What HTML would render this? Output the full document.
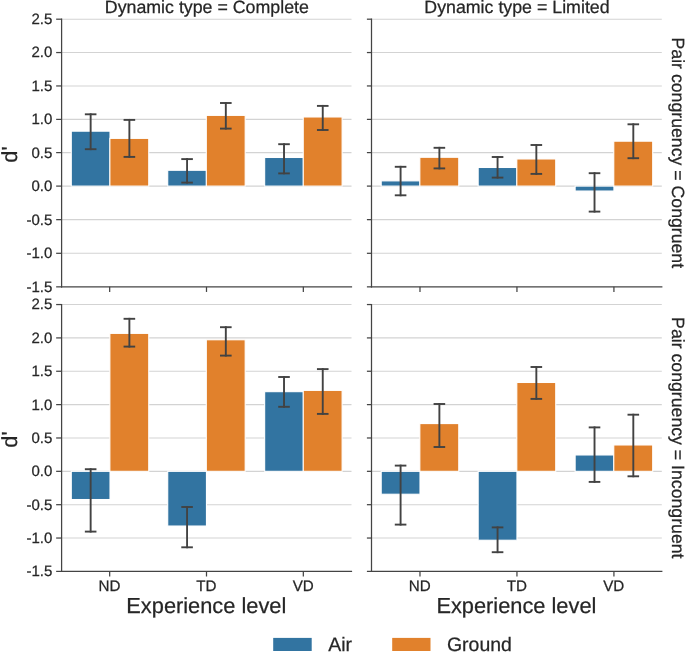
<!DOCTYPE html>
<html lang="en"><head><meta charset="utf-8"><title>d' by experience level</title>
<style>
html,body{margin:0;padding:0;background:#fff;}
body{width:685px;height:653px;overflow:hidden;}
svg{display:block;}
text{font-family:"Liberation Sans",Arial,Helvetica,sans-serif;fill:#262626;stroke:#262626;stroke-width:0.25px;text-rendering:geometricPrecision;}
.tk{font-size:15.0px;}
.tt{font-size:17.8px;}
.rl{font-size:17.7px;}
.xk{font-size:15.2px;}
.lb{font-size:21.8px;}
.lg{font-size:19.44px;}
.grid line{stroke:#d3d3d3;stroke-width:1.1;}
.ax line{stroke:#444444;stroke-width:1.25;}
.err line{stroke:#424242;stroke-width:1.9;stroke-linecap:square;}
.bar rect{stroke:#fff;stroke-width:1.1;}
</style></head><body>
<svg width="685" height="653" viewBox="0 0 685 653">
<rect x="0" y="0" width="685" height="653" fill="#ffffff"/>
<g>
<g class="grid">
<line x1="61.6" y1="19.2" x2="351.5" y2="19.2"/>
<line x1="61.6" y1="52.55" x2="351.5" y2="52.55"/>
<line x1="61.6" y1="85.95" x2="351.5" y2="85.95"/>
<line x1="61.6" y1="119.4" x2="351.5" y2="119.4"/>
<line x1="61.6" y1="152.6" x2="351.5" y2="152.6"/>
<line x1="61.6" y1="186.1" x2="351.5" y2="186.1"/>
<line x1="61.6" y1="219.65" x2="351.5" y2="219.65"/>
<line x1="61.6" y1="253.3" x2="351.5" y2="253.3"/>
</g>
<g class="bar">
<rect x="71.28" y="131.17" width="38.73" height="54.93" fill="#3274a1"/>
<rect x="109.87" y="138.37" width="38.88" height="47.73" fill="#e1812c"/>
<rect x="167.72" y="170.27" width="38.73" height="15.83" fill="#3274a1"/>
<rect x="206.3" y="115.37" width="38.88" height="70.73" fill="#e1812c"/>
<rect x="264.65" y="157.47" width="38.73" height="28.63" fill="#3274a1"/>
<rect x="303.23" y="116.97" width="38.88" height="69.13" fill="#e1812c"/>
</g>
<g class="err">
<line x1="90.65" y1="114.3" x2="90.65" y2="149.2"/>
<line x1="85.8" y1="114.3" x2="95.5" y2="114.3"/>
<line x1="85.8" y1="149.2" x2="95.5" y2="149.2"/>
<line x1="129.38" y1="119.9" x2="129.38" y2="156.9"/>
<line x1="124.53" y1="119.9" x2="134.23" y2="119.9"/>
<line x1="124.53" y1="156.9" x2="134.23" y2="156.9"/>
<line x1="187.08" y1="159.1" x2="187.08" y2="182.6"/>
<line x1="182.23" y1="159.1" x2="191.93" y2="159.1"/>
<line x1="182.23" y1="182.6" x2="191.93" y2="182.6"/>
<line x1="225.82" y1="103" x2="225.82" y2="128.6"/>
<line x1="220.97" y1="103" x2="230.67" y2="103"/>
<line x1="220.97" y1="128.6" x2="230.67" y2="128.6"/>
<line x1="284.02" y1="144.2" x2="284.02" y2="173.4"/>
<line x1="279.17" y1="144.2" x2="288.87" y2="144.2"/>
<line x1="279.17" y1="173.4" x2="288.87" y2="173.4"/>
<line x1="322.75" y1="105.9" x2="322.75" y2="130"/>
<line x1="317.9" y1="105.9" x2="327.6" y2="105.9"/>
<line x1="317.9" y1="130" x2="327.6" y2="130"/>
</g>
<g class="ax">
<line x1="61.6" y1="18.57" x2="61.6" y2="287.48"/>
<line x1="60.98" y1="286.85" x2="352.1" y2="286.85"/>
<line x1="56.15" y1="19.2" x2="61.6" y2="19.2"/>
<line x1="56.15" y1="52.55" x2="61.6" y2="52.55"/>
<line x1="56.15" y1="85.95" x2="61.6" y2="85.95"/>
<line x1="56.15" y1="119.4" x2="61.6" y2="119.4"/>
<line x1="56.15" y1="152.6" x2="61.6" y2="152.6"/>
<line x1="56.15" y1="186.1" x2="61.6" y2="186.1"/>
<line x1="56.15" y1="219.65" x2="61.6" y2="219.65"/>
<line x1="56.15" y1="253.3" x2="61.6" y2="253.3"/>
<line x1="56.15" y1="286.85" x2="61.6" y2="286.85"/>
<line x1="109.67" y1="286.85" x2="109.67" y2="291.95"/>
<line x1="206.5" y1="286.85" x2="206.5" y2="291.95"/>
<line x1="303.33" y1="286.85" x2="303.33" y2="291.95"/>
</g>
<text class="tk" x="52.4" y="24.1" text-anchor="end">2.5</text>
<text class="tk" x="52.4" y="57.45" text-anchor="end">2.0</text>
<text class="tk" x="52.4" y="90.85" text-anchor="end">1.5</text>
<text class="tk" x="52.4" y="124.3" text-anchor="end">1.0</text>
<text class="tk" x="52.4" y="157.5" text-anchor="end">0.5</text>
<text class="tk" x="52.4" y="191" text-anchor="end">0.0</text>
<text class="tk" x="52.4" y="224.55" text-anchor="end">-0.5</text>
<text class="tk" x="52.4" y="258.2" text-anchor="end">-1.0</text>
<text class="tk" x="52.4" y="291.75" text-anchor="end">-1.5</text>
<text class="lb" transform="translate(17.2,154.58) rotate(-90)" text-anchor="middle">d'</text>
<text class="tt" x="206.85" y="13" text-anchor="middle">Dynamic type = Complete</text>
</g>
<g>
<g class="grid">
<line x1="371.5" y1="19.2" x2="661.8" y2="19.2"/>
<line x1="371.5" y1="52.55" x2="661.8" y2="52.55"/>
<line x1="371.5" y1="85.95" x2="661.8" y2="85.95"/>
<line x1="371.5" y1="119.4" x2="661.8" y2="119.4"/>
<line x1="371.5" y1="152.6" x2="661.8" y2="152.6"/>
<line x1="371.5" y1="186.1" x2="661.8" y2="186.1"/>
<line x1="371.5" y1="219.65" x2="661.8" y2="219.65"/>
<line x1="371.5" y1="253.3" x2="661.8" y2="253.3"/>
</g>
<g class="bar">
<rect x="381.2" y="180.87" width="38.79" height="5.23" fill="#3274a1"/>
<rect x="419.83" y="157.27" width="38.94" height="28.83" fill="#e1812c"/>
<rect x="478.16" y="167.47" width="38.79" height="18.63" fill="#3274a1"/>
<rect x="516.8" y="158.97" width="38.94" height="27.13" fill="#e1812c"/>
<rect x="575.13" y="186.1" width="38.79" height="4.93" fill="#3274a1"/>
<rect x="613.77" y="141.17" width="38.94" height="44.93" fill="#e1812c"/>
</g>
<g class="err">
<line x1="400.59" y1="166.8" x2="400.59" y2="195.3"/>
<line x1="395.74" y1="166.8" x2="405.44" y2="166.8"/>
<line x1="395.74" y1="195.3" x2="405.44" y2="195.3"/>
<line x1="439.38" y1="147.8" x2="439.38" y2="168.4"/>
<line x1="434.53" y1="147.8" x2="444.23" y2="147.8"/>
<line x1="434.53" y1="168.4" x2="444.23" y2="168.4"/>
<line x1="497.56" y1="157" x2="497.56" y2="177.6"/>
<line x1="492.71" y1="157" x2="502.41" y2="157"/>
<line x1="492.71" y1="177.6" x2="502.41" y2="177.6"/>
<line x1="536.34" y1="145" x2="536.34" y2="173.9"/>
<line x1="531.49" y1="145" x2="541.19" y2="145"/>
<line x1="531.49" y1="173.9" x2="541.19" y2="173.9"/>
<line x1="594.52" y1="173.2" x2="594.52" y2="211.6"/>
<line x1="589.67" y1="173.2" x2="599.37" y2="173.2"/>
<line x1="589.67" y1="211.6" x2="599.37" y2="211.6"/>
<line x1="633.31" y1="124.3" x2="633.31" y2="158.2"/>
<line x1="628.46" y1="124.3" x2="638.16" y2="124.3"/>
<line x1="628.46" y1="158.2" x2="638.16" y2="158.2"/>
</g>
<g class="ax">
<line x1="371.5" y1="18.57" x2="371.5" y2="287.48"/>
<line x1="370.88" y1="286.85" x2="662.4" y2="286.85"/>
<line x1="366.9" y1="19.2" x2="371.5" y2="19.2"/>
<line x1="366.9" y1="52.55" x2="371.5" y2="52.55"/>
<line x1="366.9" y1="85.95" x2="371.5" y2="85.95"/>
<line x1="366.9" y1="119.4" x2="371.5" y2="119.4"/>
<line x1="366.9" y1="152.6" x2="371.5" y2="152.6"/>
<line x1="366.9" y1="186.1" x2="371.5" y2="186.1"/>
<line x1="366.9" y1="219.65" x2="371.5" y2="219.65"/>
<line x1="366.9" y1="253.3" x2="371.5" y2="253.3"/>
<line x1="366.9" y1="286.85" x2="371.5" y2="286.85"/>
<line x1="419.98" y1="286.85" x2="419.98" y2="291.95"/>
<line x1="516.95" y1="286.85" x2="516.95" y2="291.95"/>
<line x1="613.92" y1="286.85" x2="613.92" y2="291.95"/>
</g>
<text class="tt" x="516.95" y="13" text-anchor="middle">Dynamic type = Limited</text>
<text class="rl" transform="translate(672.1,152.83) rotate(90)" text-anchor="middle">Pair congruency = Congruent</text>
</g>
<g>
<g class="grid">
<line x1="61.6" y1="304.55" x2="351.5" y2="304.55"/>
<line x1="61.6" y1="337.91" x2="351.5" y2="337.91"/>
<line x1="61.6" y1="371.26" x2="351.5" y2="371.26"/>
<line x1="61.6" y1="404.62" x2="351.5" y2="404.62"/>
<line x1="61.6" y1="437.98" x2="351.5" y2="437.98"/>
<line x1="61.6" y1="471.33" x2="351.5" y2="471.33"/>
<line x1="61.6" y1="504.69" x2="351.5" y2="504.69"/>
<line x1="61.6" y1="538.04" x2="351.5" y2="538.04"/>
</g>
<g class="bar">
<rect x="71.28" y="471.33" width="38.73" height="28.2" fill="#3274a1"/>
<rect x="109.87" y="333.37" width="38.88" height="137.96" fill="#e1812c"/>
<rect x="167.72" y="471.33" width="38.73" height="54.7" fill="#3274a1"/>
<rect x="206.3" y="339.77" width="38.88" height="131.56" fill="#e1812c"/>
<rect x="264.65" y="391.67" width="38.73" height="79.66" fill="#3274a1"/>
<rect x="303.23" y="390.37" width="38.88" height="80.96" fill="#e1812c"/>
</g>
<g class="err">
<line x1="90.65" y1="469.2" x2="90.65" y2="531.6"/>
<line x1="85.8" y1="469.2" x2="95.5" y2="469.2"/>
<line x1="85.8" y1="531.6" x2="95.5" y2="531.6"/>
<line x1="129.38" y1="318.8" x2="129.38" y2="346.6"/>
<line x1="124.53" y1="318.8" x2="134.23" y2="318.8"/>
<line x1="124.53" y1="346.6" x2="134.23" y2="346.6"/>
<line x1="187.08" y1="507" x2="187.08" y2="547.3"/>
<line x1="182.23" y1="507" x2="191.93" y2="507"/>
<line x1="182.23" y1="547.3" x2="191.93" y2="547.3"/>
<line x1="225.82" y1="327.2" x2="225.82" y2="355.6"/>
<line x1="220.97" y1="327.2" x2="230.67" y2="327.2"/>
<line x1="220.97" y1="355.6" x2="230.67" y2="355.6"/>
<line x1="284.02" y1="377" x2="284.02" y2="406.8"/>
<line x1="279.17" y1="377" x2="288.87" y2="377"/>
<line x1="279.17" y1="406.8" x2="288.87" y2="406.8"/>
<line x1="322.75" y1="369.1" x2="322.75" y2="413.9"/>
<line x1="317.9" y1="369.1" x2="327.6" y2="369.1"/>
<line x1="317.9" y1="413.9" x2="327.6" y2="413.9"/>
</g>
<g class="ax">
<line x1="61.6" y1="303.93" x2="61.6" y2="572.02"/>
<line x1="60.98" y1="571.4" x2="352.1" y2="571.4"/>
<line x1="56.15" y1="304.55" x2="61.6" y2="304.55"/>
<line x1="56.15" y1="337.91" x2="61.6" y2="337.91"/>
<line x1="56.15" y1="371.26" x2="61.6" y2="371.26"/>
<line x1="56.15" y1="404.62" x2="61.6" y2="404.62"/>
<line x1="56.15" y1="437.98" x2="61.6" y2="437.98"/>
<line x1="56.15" y1="471.33" x2="61.6" y2="471.33"/>
<line x1="56.15" y1="504.69" x2="61.6" y2="504.69"/>
<line x1="56.15" y1="538.04" x2="61.6" y2="538.04"/>
<line x1="56.15" y1="571.4" x2="61.6" y2="571.4"/>
<line x1="109.67" y1="571.4" x2="109.67" y2="576.5"/>
<line x1="206.5" y1="571.4" x2="206.5" y2="576.5"/>
<line x1="303.33" y1="571.4" x2="303.33" y2="576.5"/>
</g>
<text class="tk" x="52.4" y="309.45" text-anchor="end">2.5</text>
<text class="tk" x="52.4" y="342.81" text-anchor="end">2.0</text>
<text class="tk" x="52.4" y="376.16" text-anchor="end">1.5</text>
<text class="tk" x="52.4" y="409.52" text-anchor="end">1.0</text>
<text class="tk" x="52.4" y="442.88" text-anchor="end">0.5</text>
<text class="tk" x="52.4" y="476.23" text-anchor="end">0.0</text>
<text class="tk" x="52.4" y="509.59" text-anchor="end">-0.5</text>
<text class="tk" x="52.4" y="542.94" text-anchor="end">-1.0</text>
<text class="tk" x="52.4" y="576.3" text-anchor="end">-1.5</text>
<text class="lb" transform="translate(17.2,439.53) rotate(-90)" text-anchor="middle">d'</text>
<text class="xk" x="109.52" y="591.1" text-anchor="middle">ND</text>
<text class="xk" x="206.35" y="591.1" text-anchor="middle">TD</text>
<text class="xk" x="303.18" y="591.1" text-anchor="middle">VD</text>
<text class="lb" x="206.3" y="613.3" text-anchor="middle">Experience level</text>
</g>
<g>
<g class="grid">
<line x1="371.5" y1="304.55" x2="661.8" y2="304.55"/>
<line x1="371.5" y1="337.91" x2="661.8" y2="337.91"/>
<line x1="371.5" y1="371.26" x2="661.8" y2="371.26"/>
<line x1="371.5" y1="404.62" x2="661.8" y2="404.62"/>
<line x1="371.5" y1="437.98" x2="661.8" y2="437.98"/>
<line x1="371.5" y1="471.33" x2="661.8" y2="471.33"/>
<line x1="371.5" y1="504.69" x2="661.8" y2="504.69"/>
<line x1="371.5" y1="538.04" x2="661.8" y2="538.04"/>
</g>
<g class="bar">
<rect x="381.2" y="471.33" width="38.79" height="22.9" fill="#3274a1"/>
<rect x="419.83" y="423.57" width="38.94" height="47.76" fill="#e1812c"/>
<rect x="478.16" y="471.33" width="38.79" height="68.9" fill="#3274a1"/>
<rect x="516.8" y="382.47" width="38.94" height="88.86" fill="#e1812c"/>
<rect x="575.13" y="454.97" width="38.79" height="16.36" fill="#3274a1"/>
<rect x="613.77" y="444.97" width="38.94" height="26.36" fill="#e1812c"/>
</g>
<g class="err">
<line x1="400.59" y1="465.6" x2="400.59" y2="524.6"/>
<line x1="395.74" y1="465.6" x2="405.44" y2="465.6"/>
<line x1="395.74" y1="524.6" x2="405.44" y2="524.6"/>
<line x1="439.38" y1="404" x2="439.38" y2="447"/>
<line x1="434.53" y1="404" x2="444.23" y2="404"/>
<line x1="434.53" y1="447" x2="444.23" y2="447"/>
<line x1="497.56" y1="527.4" x2="497.56" y2="552.2"/>
<line x1="492.71" y1="527.4" x2="502.41" y2="527.4"/>
<line x1="492.71" y1="552.2" x2="502.41" y2="552.2"/>
<line x1="536.34" y1="367" x2="536.34" y2="398.9"/>
<line x1="531.49" y1="367" x2="541.19" y2="367"/>
<line x1="531.49" y1="398.9" x2="541.19" y2="398.9"/>
<line x1="594.52" y1="427.4" x2="594.52" y2="481.9"/>
<line x1="589.67" y1="427.4" x2="599.37" y2="427.4"/>
<line x1="589.67" y1="481.9" x2="599.37" y2="481.9"/>
<line x1="633.31" y1="414.7" x2="633.31" y2="476.3"/>
<line x1="628.46" y1="414.7" x2="638.16" y2="414.7"/>
<line x1="628.46" y1="476.3" x2="638.16" y2="476.3"/>
</g>
<g class="ax">
<line x1="371.5" y1="303.93" x2="371.5" y2="572.02"/>
<line x1="370.88" y1="571.4" x2="662.4" y2="571.4"/>
<line x1="366.9" y1="304.55" x2="371.5" y2="304.55"/>
<line x1="366.9" y1="337.91" x2="371.5" y2="337.91"/>
<line x1="366.9" y1="371.26" x2="371.5" y2="371.26"/>
<line x1="366.9" y1="404.62" x2="371.5" y2="404.62"/>
<line x1="366.9" y1="437.98" x2="371.5" y2="437.98"/>
<line x1="366.9" y1="471.33" x2="371.5" y2="471.33"/>
<line x1="366.9" y1="504.69" x2="371.5" y2="504.69"/>
<line x1="366.9" y1="538.04" x2="371.5" y2="538.04"/>
<line x1="366.9" y1="571.4" x2="371.5" y2="571.4"/>
<line x1="419.98" y1="571.4" x2="419.98" y2="576.5"/>
<line x1="516.95" y1="571.4" x2="516.95" y2="576.5"/>
<line x1="613.92" y1="571.4" x2="613.92" y2="576.5"/>
</g>
<text class="xk" x="419.83" y="591.1" text-anchor="middle">ND</text>
<text class="xk" x="516.8" y="591.1" text-anchor="middle">TD</text>
<text class="xk" x="613.77" y="591.1" text-anchor="middle">VD</text>
<text class="lb" x="516.4" y="613.3" text-anchor="middle">Experience level</text>
<text class="rl" transform="translate(672.1,437.78) rotate(90)" text-anchor="middle">Pair congruency = Incongruent</text>
</g>
<g>
<rect x="273.2" y="637.9" width="38.5" height="13.1" fill="#3274a1"/>
<text class="lg" x="328.2" y="651">Air</text>
<rect x="392.2" y="637.9" width="38.3" height="13.1" fill="#e1812c"/>
<text class="lg" x="447" y="651">Ground</text>
</g>
</svg></body></html>
